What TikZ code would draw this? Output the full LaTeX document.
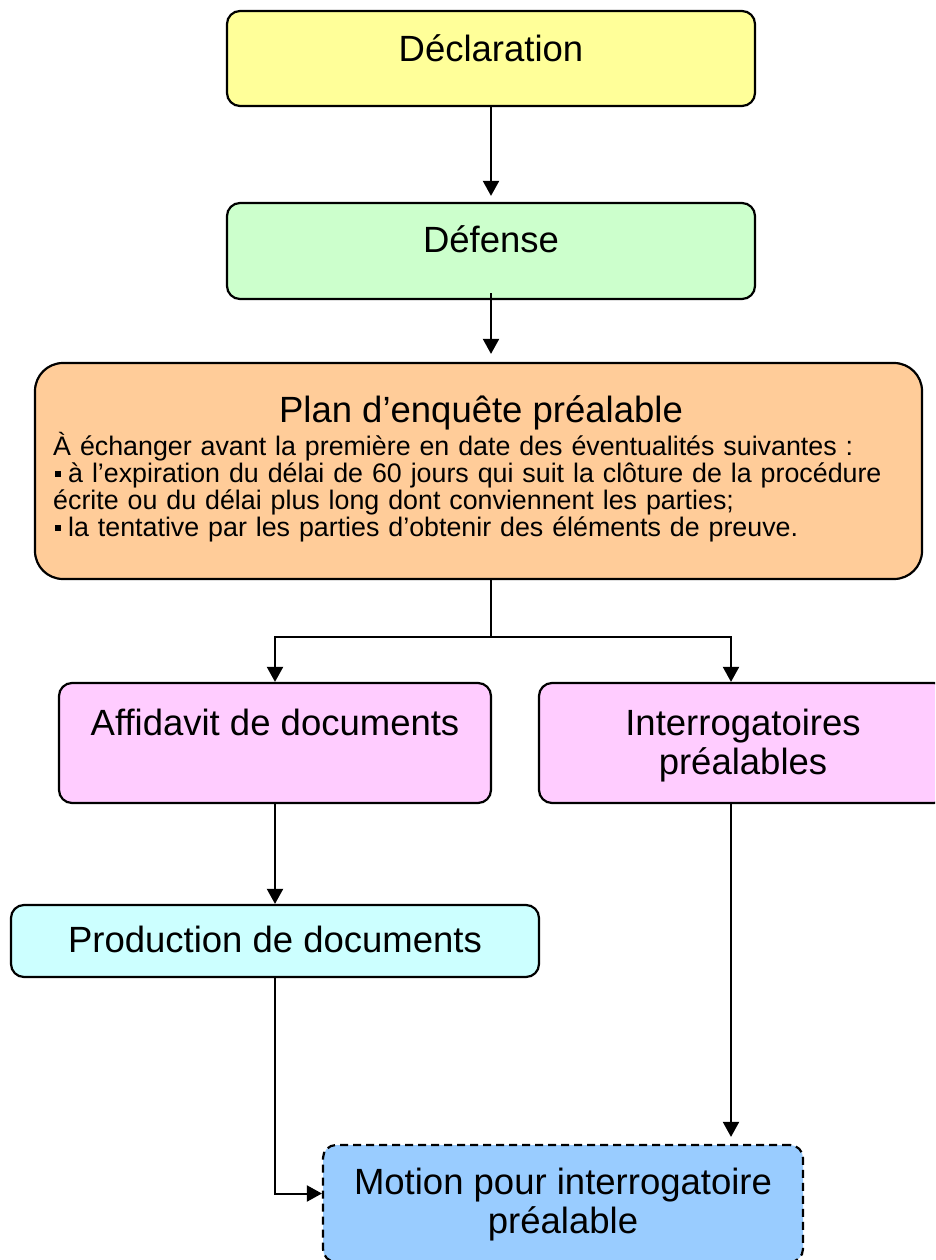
\documentclass[tikz,border=0pt]{standalone}
\usepackage{fontspec}
\setmainfont{Liberation Sans}
\usetikzlibrary{arrows.meta,calc}
\definecolor{cdecl}{HTML}{FFFF99}
\definecolor{cdef}{HTML}{CCFFCC}
\definecolor{cplan}{HTML}{FFCC99}
\definecolor{cpink}{HTML}{FFCCFF}
\definecolor{cprod}{HTML}{CCFFFF}
\definecolor{cmot}{HTML}{99CCFF}
\begin{document}
\begin{tikzpicture}[x=1pt,y=-1pt,
  box/.style={draw=black, line width=2.2pt, rounded corners=13pt, inner sep=0pt},
  big/.style={font=\fontsize{36.5}{38.5}\selectfont, inner sep=0pt},
  small/.style={font=\fontsize{26.8}{27}\selectfont, inner sep=0pt},
  conn/.style={line width=2pt, -{Triangle[width=16pt,length=15pt]}},
  ]
\clip (0,0) rectangle (935,1260);
\fill[white] (0,0) rectangle (935,1260);
% boxes
\node[box, fill=cdecl, minimum width=528pt, minimum height=95pt] (decl) at (491,58.5) {};
\node[box, fill=cdef, minimum width=528pt, minimum height=96pt] (def) at (491,251) {};
\node[box, fill=cplan, rounded corners=28pt, minimum width=887pt, minimum height=216pt] (plan) at (478.5,471) {};
\node[box, fill=cpink, minimum width=432pt, minimum height=120pt] (aff) at (275,743) {};
\node[box, fill=cpink, minimum width=408pt, minimum height=120pt] (int) at (743,743) {};
\node[box, fill=cprod, minimum width=528pt, minimum height=72pt] (prod) at (275,941) {};
\node[box, fill=cmot, dash pattern=on 8pt off 5pt, minimum width=480pt, minimum height=117pt] (mot) at (563,1203.5) {};
% texts
\node[big, anchor=base] (declT) at (491,62) {Déclaration};
\node[big, anchor=base] (defT) at (491,252) {Défense};
\node[big, anchor=base] (planT) at (481,422) {Plan d’enquête préalable};
\node[small, text width=880pt, align=left, anchor=base west] (planB) at (53,455) {%
À échanger avant la première en date des éventualités suivantes :\\
\hspace*{2pt}\rule[5pt]{6pt}{6pt}\hspace{7pt}à l’expiration du délai de 60 jours qui suit la clôture de la procédure\\
écrite ou du délai plus long dont conviennent les parties;\\
\hspace*{2pt}\rule[5pt]{6pt}{6pt}\hspace{7pt}la tentative par les parties d’obtenir des éléments de preuve.};
\node[big, anchor=base] (affT) at (275,735) {Affidavit de documents};
\node[big, align=center, anchor=base] (intT) at (743,774) {Interrogatoires\\préalables};
\node[big, anchor=base] (prodT) at (275,952) {Production de documents};
\node[big, align=center, anchor=base] (motT) at (563,1233) {Motion pour interrogatoire\\préalable};
% connectors
\coordinate (fork) at (491,637);
\draw[conn, shorten >=6pt] (decl.south) -- (def.north);
\draw[conn, shorten >=8pt] ($(def.south)+(0,-7)$) -- (def.south |- plan.north);
\draw[line width=2pt] (fork |- plan.south) -- (fork);
\draw[conn] (fork) -| (aff.north);
\draw[conn] (fork) -| ([xshift=-12pt]int.north);
\draw[conn] (aff.south) -- (prod.north);
\draw[conn, shorten >=7pt] ([xshift=-12pt]int.south) -- ([xshift=-12pt]int.south |- mot.north);
\draw[conn] (prod.south) |- ([yshift=10pt]mot.west);
\end{tikzpicture}
\end{document}
